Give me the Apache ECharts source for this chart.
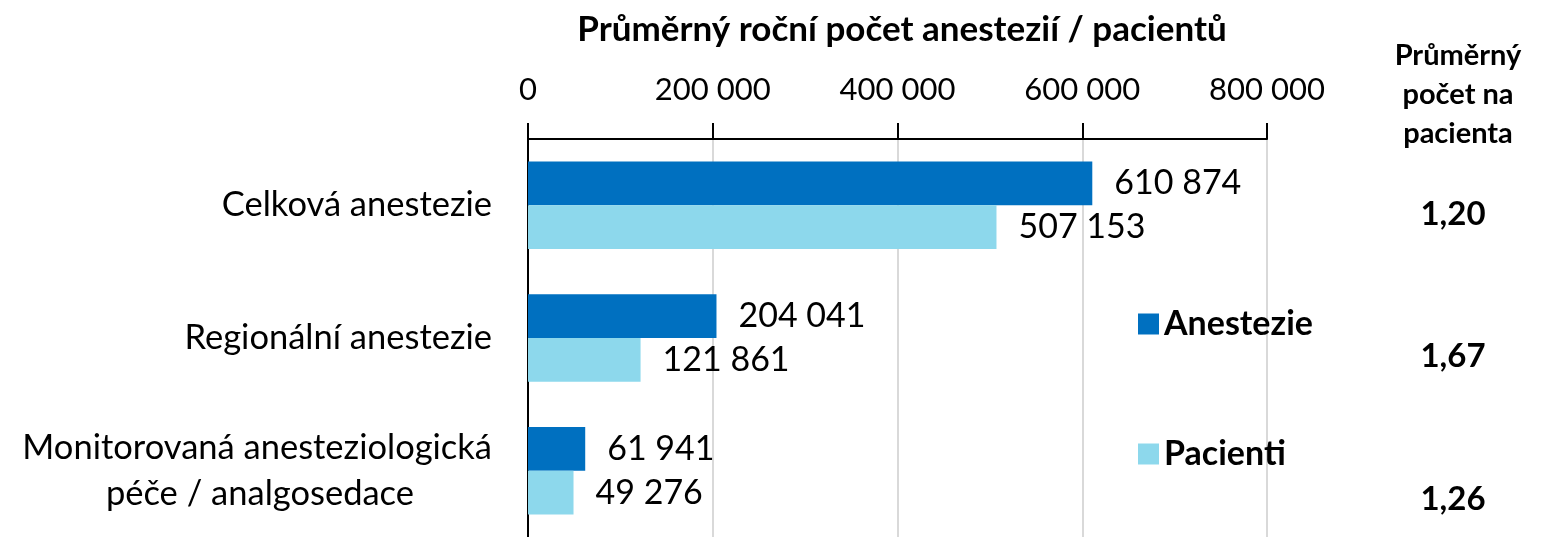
<!DOCTYPE html>
<html>
<head>
    <meta charset="utf-8"/>
    <title>Anestezie</title>
    <script src="https://cdn.jsdelivr.net/npm/echarts@6/dist/echarts.min.js"></script>
    <style>
        html, body { margin: 0; padding: 0; background: #fff; }
        #main { width: 1544px; height: 537px; }
    </style>
</head>
<body>
<div id="main"></div>
<script type="text/javascript">
    // data
    var categories = ['Celková anestezie', 'Regionální anestezie', 'Monitorovaná anesteziologická\npéče / analgosedace'];
    var anestezie = [610874, 204041, 61941];
    var pacienti = [507153, 121861, 49276];
    var prumerNaPacienta = ['1,20', '1,67', '1,26'];
    var xTicks = [0, 200000, 400000, 600000, 800000];

    var FONT = 'Lato';

    function fmt(v) {
        return String(v).replace(/\B(?=(\d{3})+(?!\d))/g, ' ');
    }

    var myChart = echarts.init(document.getElementById('main'));
    var option = {
        animation: false,
        textStyle: { fontFamily: FONT, color: '#000' },
        title: [
            {
                text: 'Průměrný roční počet anestezií / pacientů',
                left: 897, top: 7, textAlign: 'center',
                textStyle: { fontFamily: FONT, fontSize: 35, fontWeight: 'bold', color: '#000' }
            },
            {
                text: 'Průměrný\npočet na\npacienta',
                left: 1453, top: 31, textAlign: 'center',
                textStyle: { fontFamily: FONT, fontSize: 29, fontWeight: 'bold', color: '#000', lineHeight: 39 }
            }
        ],
        legend: {
            orient: 'vertical',
            left: 1133, top: 302,
            itemWidth: 21, itemHeight: 21,
            itemGap: 96,
            icon: 'rect',
            textStyle: { fontFamily: FONT, fontSize: 34, fontWeight: 'bold', color: '#000' },
            data: ['Anestezie', 'Pacienti']
        },
        grid: { left: 528, top: 139, width: 739, height: 402 },
        xAxis: {
            type: 'value',
            position: 'top',
            min: 0, max: 800000, interval: 200000,
            axisLine: { show: true, lineStyle: { color: '#000', width: 2 } },
            axisTick: { show: true, length: 16, lineStyle: { color: '#000', width: 2 } },
            axisLabel: {
                margin: 34, fontSize: 31, color: '#000', fontFamily: FONT,
                formatter: function (v) { return xTicks.indexOf(v) >= 0 ? fmt(v) : ''; }
            },
            splitLine: { show: true, lineStyle: { color: '#d9d9d9', width: 2 } }
        },
        yAxis: [
            {
                type: 'category',
                inverse: true,
                data: categories,
                axisLine: { show: true, lineStyle: { color: '#000', width: 2 } },
                axisTick: { show: false },
                axisLabel: {
                    margin: 36, color: '#000', fontFamily: FONT,
                    formatter: function (v) {
                        var parts = v.split('\n');
                        if (parts.length === 1) return '{a|' + v + '}';
                        return '{a|' + parts[0] + '}\n{b|' + parts[1] + '}';
                    },
                    rich: {
                        a: { fontSize: 34.5, fontFamily: FONT, color: '#000', lineHeight: 46 },
                        b: { fontSize: 34.5, fontFamily: FONT, color: '#000', lineHeight: 46, padding: [0, 78, 0, 0] }
                    }
                }
            },
            {
                type: 'category',
                inverse: true,
                position: 'right',
                data: prumerNaPacienta,
                axisLine: { show: false },
                axisTick: { show: false },
                axisLabel: {
                    margin: 186, align: 'center', color: '#000', fontFamily: FONT,
                    formatter: function (v, i) { return '{r' + i + '|' + v + '}'; },
                    rich: {
                        r0: { fontSize: 33, fontWeight: 'bold', fontFamily: FONT, color: '#000', padding: [18, 0, 0, 0] },
                        r1: { fontSize: 33, fontWeight: 'bold', fontFamily: FONT, color: '#000', padding: [36, 0, 0, 0] },
                        r2: { fontSize: 33, fontWeight: 'bold', fontFamily: FONT, color: '#000', padding: [58, 0, 0, 0] }
                    }
                }
            }
        ],
        series: [
            {
                name: 'Anestezie',
                type: 'bar',
                barCategoryGap: '34%',
                barGap: '0%',
                itemStyle: { color: '#0070c0' },
                label: { show: true, position: 'right', distance: 22, fontSize: 34, color: '#000', fontFamily: FONT,
                    formatter: function (p) { return fmt(p.value); } },
                data: anestezie
            },
            {
                name: 'Pacienti',
                type: 'bar',
                itemStyle: { color: '#8dd8ec' },
                label: { show: true, position: 'right', distance: 22, fontSize: 34, color: '#000', fontFamily: FONT,
                    formatter: function (p) { return fmt(p.value); } },
                data: pacienti
            }
        ]
    };
    myChart.setOption(option);
</script>
</body>
</html>
